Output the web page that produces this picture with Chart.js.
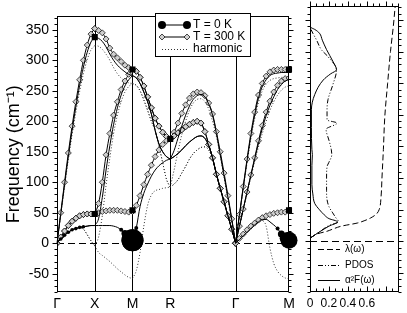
<!DOCTYPE html>
<html>
<head>
<meta charset="utf-8">
<script src="https://cdn.jsdelivr.net/npm/chart.js@4.4.1/dist/chart.umd.min.js"></script>
<style>
  html, body { margin: 0; padding: 0; background: #fff; }
  #wrap { position: relative; width: 407px; height: 313px; }
  #main { position: absolute; left: 0; top: 0; }
  #side { position: absolute; left: 300px; top: 0; }
</style>
</head>
<body>
<div id="wrap">
  <canvas id="main" width="300" height="313"></canvas>
  <canvas id="side" width="107" height="313"></canvas>
</div>
<script>
const FONT = '"Liberation Sans", Arial, sans-serif';

// k-path: high symmetry points and number of q-steps per segment
const kLabels = ['Γ', 'X', 'M', 'R', 'Γ', 'M'];
const kNodes = [0, 0.5, 1.0, 1.5, 2.366, 3.073];
const segEnds = [0, 10, 20, 30, 47, 61];

const yTicks = [-50, 0, 50, 100, 150, 200, 250, 300, 350];

// frequencies (cm^-1) along the path, three branches each
const t300Hi = [0, 50, 100, 148, 192, 232, 268, 300, 325, 343, 352,
  349, 345, 335, 320, 310, 304, 298, 292, 288, 285,
  282, 272, 258, 240, 222, 205, 192, 182, 175, 171,
  182, 197, 213, 227, 238, 245, 248, 247, 242, 230, 212, 183, 150, 115, 78, 40, 0,
  47, 93, 138, 180, 215, 243, 262, 274, 281, 284, 285, 285, 285, 285];
const t300Mid = [0, 10, 20, 29, 36, 41, 45, 47, 48, 48, 48,
  65, 100, 145, 180, 210, 232, 252, 266, 277, 285,
  282, 272, 258, 240, 222, 205, 192, 182, 175, 171,
  176, 181, 186, 191, 195, 198, 200, 197, 183, 162, 140, 113, 90, 68, 45, 23, 0,
  28, 56, 84, 112, 140, 168, 193, 215, 233, 248, 259, 266, 270, 271];
const t300Lo = [0, 10, 20, 29, 36, 41, 45, 47, 48, 48, 48,
  50, 52, 53, 54, 54, 54, 53, 52, 51, 52,
  62, 78, 96, 113, 128, 142, 153, 162, 168, 171,
  176, 181, 186, 191, 195, 198, 200, 197, 183, 162, 140, 113, 90, 68, 45, 23, 0,
  8, 15, 22, 28, 33, 38, 42, 45, 47, 49, 50, 51, 51, 52];

const t0Hi = [0, 48, 96, 142, 185, 224, 259, 289, 313, 330, 338,
  336, 331, 322, 310, 300, 292, 286, 281, 277, 275,
  271, 262, 248, 232, 212, 185, 163, 150, 142, 138,
  152, 172, 192, 210, 225, 236, 242, 244, 240, 228, 210, 180, 145, 110, 75, 38, 0,
  46, 91, 135, 176, 210, 238, 257, 268, 275, 278, 279, 280, 280, 280];
const t0Mid = [0, 7, 13, 18, 22, 24, 26, 27, 28, 29, 29,
  40, 75, 120, 160, 195, 222, 243, 258, 268, 275,
  271, 262, 248, 232, 212, 185, 163, 150, 142, 138,
  142, 147, 153, 160, 166, 171, 175, 176, 172, 160, 140, 113, 90, 68, 45, 23, 0,
  28, 56, 84, 111, 138, 164, 188, 209, 226, 240, 252, 260, 266, 268];
const t0Lo = [0, 7, 13, 18, 22, 24, 26, 27, 28, 29, 29,
  29, 29, 29, 29, 28, 26, 22, 16, 10, 5,
  25, 60, 82, 97, 110, 120, 127, 132, 136, 138,
  142, 147, 153, 160, 166, 171, 175, 176, 172, 160, 140, 113, 90, 68, 45, 23, 0,
  6, 12, 18, 24, 30, 35, 39, 39, 35, 30, 24, 15, 8, 5];

const harmHi = [0, 46, 92, 137, 178, 215, 249, 278, 301, 317, 324,
  323, 318, 310, 300, 288, 278, 271, 266, 263, 262,
  259, 250, 235, 218, 200, 185, 160, 132, 105, 92,
  120, 150, 178, 200, 218, 230, 236, 237, 232, 220, 200, 175, 143, 108, 72, 36, 0,
  45, 89, 132, 171, 204, 231, 250, 261, 267, 270, 271, 272, 272, 272];
const harmMid = [0, 7, 13, 18, 22, 24, 25, 23, 14, 4, -4,
  10, 45, 95, 140, 180, 210, 232, 248, 257, 262,
  259, 250, 235, 218, 200, 185, 160, 132, 105, 92,
  97, 104, 115, 126, 138, 147, 153, 157, 158, 153, 138, 115, 90, 66, 44, 22, 0,
  27, 54, 81, 108, 134, 158, 180, 200, 218, 232, 243, 251, 256, 258];
const harmLo = [0, 7, 13, 18, 22, 24, 25, 23, 14, 4, -4,
  -15, -20, -25, -30, -36, -42, -47, -52, -56, -58,
  -45, -15, 28, 62, 79, 86, 88, 90, 91, 92,
  97, 104, 115, 126, 138, 147, 153, 157, 158, 153, 138, 115, 90, 66, 44, 22, 0,
  6, 12, 18, 24, 30, 35, 37, 28, -8, -33, -46, -53, -57, -58];

// black squares at the high symmetry points
const squareK = [0.5, 0.5, 1.0, 1.0, 1.5, 3.073, 3.073];
const squareF = [48, 338, 285, 54, 171, 285, 54];

// right panel: lambda(w), PDOS, a2F(w)
const sideTicks = [0, 0.2, 0.4, 0.6];
const sideTickLabels = ['0', '0.2', '0.4', '0.6'];
const lamFreq = [5, 12, 16, 20, 24, 29, 33, 37, 43, 50, 70, 100, 145, 197, 250, 300, 340, 372];
const lamVal = [0, 0.08, 0.18, 0.25, 0.33, 0.5, 0.58, 0.64, 0.7, 0.73, 0.75, 0.76, 0.775, 0.79, 0.82, 0.85, 0.88, 0.9];
const pdosFreq = [6, 15, 25, 31, 38, 45, 55, 66, 80, 100, 118, 125, 137, 145, 160, 177, 187, 192, 208, 224, 247, 271, 292, 303, 318, 329, 338];
const pdosVal = [0.01, 0.1, 0.2, 0.3, 0.27, 0.24, 0.2, 0.18, 0.175, 0.175, 0.18, 0.2, 0.23, 0.225, 0.2, 0.17, 0.285, 0.18, 0.18, 0.19, 0.24, 0.28, 0.19, 0.12, 0.07, 0.03, 0];
const a2fFreq = [6, 15, 24, 31, 36, 42, 50, 60, 75, 90, 120, 137, 145, 180, 208, 232, 255, 265, 271, 285, 303, 318, 329, 335, 338, 342];
const a2fVal = [0.01, 0.1, 0.2, 0.29, 0.2, 0.15, 0.1, 0.05, 0.03, 0.02, 0.02, 0.025, 0.02, 0.015, 0.015, 0.05, 0.14, 0.22, 0.28, 0.24, 0.175, 0.13, 0.1, 0.05, 0.01, 0];

// path coordinate of every q-point (uniform grid on each segment)
const kx = [];
for (let s = 0; s < 5; s++) {
  const a = segEnds[s], b = segEnds[s + 1];
  for (let i = (s === 0 ? a : a + 1); i <= b; i++) {
    kx.push(kNodes[s] + (kNodes[s + 1] - kNodes[s]) * (i - a) / (b - a));
  }
}

// marker sizes of the T = 0 K soft branch (line width)
const t0LoRadius = t0Lo.map(() => 0);
[1, 2, 3, 4, 5, 6, 7].forEach(i => { t0LoRadius[i] = 1.8; });
t0LoRadius[17] = 2; t0LoRadius[18] = 3.5; t0LoRadius[19] = 6; t0LoRadius[20] = 11; t0LoRadius[21] = 2;
t0LoRadius[58] = 2; t0LoRadius[59] = 3.5; t0LoRadius[60] = 5.5; t0LoRadius[61] = 8.5;

const harmStyle = { borderColor: '#333', borderWidth: 1, borderDash: [1, 2], pointRadius: 0, order: 5 };
const t300Style = { borderColor: '#000', borderWidth: 1, pointStyle: 'rectRot', pointRadius: 3,
  pointBackgroundColor: '#cfcfcf', pointBorderColor: '#000', pointBorderWidth: 0.7, order: 3 };
const t0Style = { borderColor: '#000', borderWidth: 1, pointStyle: 'circle', pointRadius: 0,
  pointBackgroundColor: '#000', pointBorderWidth: 0, order: 1, clip: 12 };

function branch(vals, style, radii) {
  const out = [];
  for (let s = 0; s < 5; s++) {
    const a = segEnds[s], b = segEnds[s + 1];
    const pts = [];
    for (let i = a; i <= b; i++) pts.push({ x: kx[i], y: vals[i] });
    const ds = Object.assign({}, style, { data: pts });
    if (radii) ds.pointRadius = radii.slice(a, b + 1);
    out.push(ds);
  }
  return out;
}

const datasets = [].concat(
  branch(t0Lo, t0Style, t0LoRadius),
  branch(t0Mid, t0Style),
  branch(t0Hi, t0Style),
  branch(t300Lo, t300Style),
  branch(t300Mid, t300Style),
  branch(t300Hi, t300Style),
  branch(harmLo, harmStyle),
  branch(harmMid, harmStyle),
  branch(harmHi, harmStyle),
  [{
    data: squareK.map((k, i) => ({ x: k, y: squareF[i] })),
    showLine: false, pointStyle: 'rect', pointRadius: 4.3,
    pointBackgroundColor: '#000', pointBorderWidth: 0, order: 0, clip: 8
  }]
);

function yTickMarks(ctx, y, xPos, dir) {
  for (let v = -80; v <= 370; v += 10) {
    const py = Math.round(y.getPixelForValue(v)) + 0.5;
    const len = v % 50 === 0 ? 5 : 3;
    ctx.beginPath(); ctx.moveTo(xPos, py); ctx.lineTo(xPos + dir * len, py); ctx.stroke();
  }
}

const mainDeco = {
  id: 'mainDeco',
  beforeDatasetsDraw(chart) {
    const { ctx, chartArea: a, scales: { x, y } } = chart;
    ctx.save();
    ctx.strokeStyle = '#000'; ctx.lineWidth = 1;
    kNodes.slice(1, -1).forEach(k => {
      const px = Math.round(x.getPixelForValue(k)) + 0.5;
      ctx.beginPath(); ctx.moveTo(px, a.top); ctx.lineTo(px, a.bottom); ctx.stroke();
    });
    const zy = Math.round(y.getPixelForValue(0)) + 0.5;
    ctx.setLineDash([7, 4]);
    ctx.beginPath(); ctx.moveTo(a.left, zy); ctx.lineTo(a.right, zy); ctx.stroke();
    ctx.restore();
  },
  afterDraw(chart) {
    const { ctx, chartArea: a, scales: { y } } = chart;
    ctx.save();
    ctx.strokeStyle = '#000'; ctx.lineWidth = 1;
    const l = Math.round(a.left) + 0.5, r = Math.round(a.right) - 0.5;
    const t = Math.round(a.top) + 0.5, b = Math.round(a.bottom) - 0.5;
    ctx.strokeRect(l, t, r - l, b - t);
    yTickMarks(ctx, y, l, -1);
    yTickMarks(ctx, y, r, 1);

    // legend
    ctx.fillStyle = '#fff';
    ctx.fillRect(155.5, 13.5, 95, 43);
    ctx.strokeRect(155.5, 13.5, 95, 43);
    const x0 = 162, x1 = 187;
    ctx.beginPath(); ctx.moveTo(x0, 25); ctx.lineTo(x1, 25); ctx.stroke();
    ctx.fillStyle = '#000';
    [x0, x1].forEach(px => { ctx.beginPath(); ctx.arc(px, 25, 4, 0, Math.PI * 2); ctx.fill(); });
    ctx.beginPath(); ctx.moveTo(x0, 37); ctx.lineTo(x1, 37); ctx.stroke();
    [x0, x1].forEach(px => {
      ctx.beginPath();
      ctx.moveTo(px - 3, 37); ctx.lineTo(px, 34); ctx.lineTo(px + 3, 37); ctx.lineTo(px, 40); ctx.closePath();
      ctx.fillStyle = '#cfcfcf'; ctx.fill(); ctx.lineWidth = 0.7; ctx.stroke(); ctx.lineWidth = 1;
    });
    ctx.strokeStyle = '#333';
    ctx.setLineDash([1, 2]);
    ctx.beginPath(); ctx.moveTo(x0, 49.5); ctx.lineTo(x1, 49.5); ctx.stroke();
    ctx.setLineDash([]);
    ctx.fillStyle = '#000';
    ctx.font = '12px ' + FONT;
    ctx.textBaseline = 'middle';
    ctx.fillText('T = 0 K', 193, 25);
    ctx.fillText('T = 300 K', 193, 37);
    ctx.fillText('harmonic', 193, 49);
    ctx.restore();
  }
};

new Chart(document.getElementById('main'), {
  type: 'line',
  data: { datasets },
  options: {
    responsive: false,
    animation: false,
    events: [],
    layout: { padding: { top: 6, right: 8, left: 0, bottom: 0 } },
    elements: { line: { cubicInterpolationMode: 'monotone' } },
    plugins: { legend: { display: false }, tooltip: { enabled: false } },
    scales: {
      x: {
        type: 'linear', min: 0, max: kNodes[kNodes.length - 1],
        afterBuildTicks: s => { s.ticks = kNodes.map(v => ({ value: v })); },
        afterFit: s => { s.height = 21; },
        grid: { display: false, drawTicks: false },
        border: { display: false },
        ticks: {
          autoSkip: false, maxRotation: 0, padding: 4, color: '#000',
          font: { size: 14, family: FONT },
          callback: (v, i) => kLabels[i]
        }
      },
      y: {
        type: 'linear', min: -80, max: 372,
        afterBuildTicks: s => { s.ticks = yTicks.map(v => ({ value: v })); },
        afterFit: s => { s.width = 57; },
        grid: { display: false, drawTicks: false },
        border: { display: false },
        ticks: { padding: 8, color: '#000', font: { size: 14, family: FONT } },
        title: {
          display: true, text: 'Frequency (cm⁻¹)', color: '#000',
          font: { size: 18, family: FONT }, padding: { top: 3, bottom: 0 }
        }
      }
    }
  },
  plugins: [mainDeco]
});

const sideDeco = {
  id: 'sideDeco',
  beforeDatasetsDraw(chart) {
    const { ctx, chartArea: a, scales: { y } } = chart;
    ctx.save();
    ctx.strokeStyle = '#000'; ctx.lineWidth = 1;
    const zy = Math.round(y.getPixelForValue(0)) + 0.5;
    ctx.setLineDash([7, 4]);
    ctx.beginPath(); ctx.moveTo(a.left, zy); ctx.lineTo(a.right, zy); ctx.stroke();
    ctx.restore();
  },
  afterDraw(chart) {
    const { ctx, chartArea: a, scales: { x, y } } = chart;
    ctx.save();
    ctx.strokeStyle = '#000'; ctx.lineWidth = 1;
    const l = Math.round(a.left) + 0.5, r = Math.round(a.right) - 0.5;
    const t = Math.round(a.top) + 0.5, b = Math.round(a.bottom) - 0.5;
    ctx.strokeRect(l, t, r - l, b - t);
    yTickMarks(ctx, y, l, -1);
    yTickMarks(ctx, y, r, 1);
    for (let i = 0; i * 0.2 / 3 <= x.max + 1e-9; i++) {
      const px = Math.round(x.getPixelForValue(i * 0.2 / 3)) + 0.5;
      const len = i % 3 === 0 ? 5 : 3;
      ctx.beginPath(); ctx.moveTo(px, t); ctx.lineTo(px, t - len); ctx.stroke();
      ctx.beginPath(); ctx.moveTo(px, b); ctx.lineTo(px, b - len); ctx.stroke();
    }
    // legend
    const lx0 = 18, lx1 = 40;
    ctx.setLineDash([6, 3]);
    ctx.beginPath(); ctx.moveTo(lx0, 249.5); ctx.lineTo(lx1, 249.5); ctx.stroke();
    ctx.setLineDash([5, 2, 1, 2, 1, 2]);
    ctx.beginPath(); ctx.moveTo(lx0, 265.5); ctx.lineTo(lx1, 265.5); ctx.stroke();
    ctx.setLineDash([]);
    ctx.beginPath(); ctx.moveTo(lx0, 280.5); ctx.lineTo(lx1, 280.5); ctx.stroke();
    ctx.fillStyle = '#000';
    ctx.font = '10px ' + FONT;
    ctx.textBaseline = 'middle';
    ctx.fillText('λ(ω)', 45, 249);
    ctx.fillText('PDOS', 45, 265);
    ctx.fillText('α²F(ω)', 45, 280);
    ctx.restore();
  }
};

new Chart(document.getElementById('side'), {
  type: 'line',
  data: {
    datasets: [
      { data: lamFreq.map((f, i) => ({ x: lamVal[i], y: f })), borderColor: '#000', borderWidth: 1, borderDash: [6, 3], pointRadius: 0 },
      { data: pdosFreq.map((f, i) => ({ x: pdosVal[i], y: f })), borderColor: '#000', borderWidth: 1, borderDash: [5, 2, 1, 2, 1, 2], pointRadius: 0 },
      { data: a2fFreq.map((f, i) => ({ x: a2fVal[i], y: f })), borderColor: '#000', borderWidth: 1, pointRadius: 0 }
    ]
  },
  options: {
    responsive: false,
    animation: false,
    events: [],
    indexAxis: 'y',
    layout: { padding: { top: 6, right: 8, left: 10, bottom: 0 } },
    elements: { line: { cubicInterpolationMode: 'monotone' } },
    plugins: { legend: { display: false }, tooltip: { enabled: false } },
    scales: {
      x: {
        type: 'linear', min: 0, max: 0.94, position: 'bottom',
        afterBuildTicks: s => { s.ticks = sideTicks.map(v => ({ value: v })); },
        afterFit: s => { s.height = 21; },
        grid: { display: false, drawTicks: false },
        border: { display: false },
        ticks: {
          autoSkip: false, maxRotation: 0, padding: 4, color: '#000',
          font: { size: 12, family: FONT },
          callback: (v, i) => sideTickLabels[i]
        }
      },
      y: { type: 'linear', min: -80, max: 372, display: false }
    }
  },
  plugins: [sideDeco]
});
</script>
</body>
</html>
